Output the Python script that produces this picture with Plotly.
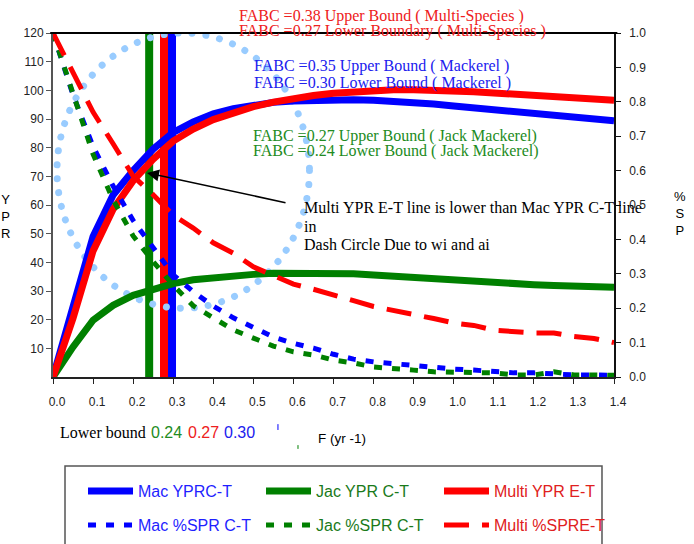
import plotly.graph_objects as go

# ---------------- data ----------------
F = [0.0, 0.05, 0.1, 0.15, 0.2, 0.25, 0.3, 0.35, 0.4, 0.45, 0.5, 0.55, 0.6, 0.65, 0.7,
     0.75, 0.8, 0.85, 0.9, 0.95, 1.0, 1.05, 1.1, 1.15, 1.2, 1.25, 1.3, 1.35, 1.4]

mac_ypr = [0, 23.5, 49, 63.5, 72, 79.5, 85.3, 89, 91.8, 93.6, 95, 95.8, 96.3, 96.6, 96.7,
           96.7, 96.5, 96.2, 95.8, 95.2, 94.5, 93.8, 93.1, 92.4, 91.8, 91.2, 90.6, 90, 89.4]
jac_ypr = [0, 10.5, 19.8, 25, 28.5, 30.8, 32.6, 33.9, 34.7, 35.3, 35.8, 36.2, 36.3, 36.3, 36.2,
           36, 35.6, 35.1, 34.7, 34.3, 33.9, 33.5, 33.1, 32.7, 32.2, 31.9, 31.7, 31.5, 31.3]
multi_ypr = [0, 20.5, 44, 58.5, 68.5, 76, 82.3, 86.5, 89.8, 92.3, 94.3, 95.9, 97.2, 98.2, 99,
             99.6, 100, 100.2, 100.2, 100.1, 99.9, 99.5, 99.1, 98.7, 98.3, 97.9, 97.5, 97, 96.5]

mac_spr = [1.0, 0.82, 0.67, 0.555, 0.455, 0.373, 0.297, 0.248, 0.206, 0.172, 0.143, 0.116,
           0.098, 0.084, 0.066, 0.052, 0.044, 0.038, 0.032, 0.026, 0.023, 0.02, 0.015, 0.012,
           0.012, 0.008, 0.006, 0.006, 0.005]
jac_spr = [1.0, 0.82, 0.648, 0.515, 0.41, 0.335, 0.267, 0.207, 0.17, 0.137, 0.113, 0.09,
           0.073, 0.064, 0.049, 0.041, 0.029, 0.026, 0.02, 0.015, 0.015, 0.014, 0.012, 0.006,
           0.006, 0.015, 0.006, 0.006, 0.005]
multi_spr = [1.0, 0.887, 0.77, 0.678, 0.584, 0.53, 0.47, 0.433, 0.39, 0.36, 0.32, 0.295,
             0.27, 0.255, 0.24, 0.222, 0.205, 0.194, 0.184, 0.17, 0.157, 0.15, 0.136, 0.131,
             0.128, 0.128, 0.118, 0.112, 0.10]

# lower-bound FABC lines (Jack mackerel, multi-species, mackerel)
bound_F = [0.24, 0.277, 0.297]
bound_colors = ["#008000", "#FF0000", "#0000FF"]

# "Dash Circle" extent (F range, YPR range)
circle_F = [0.01, 0.64]
circle_Y = [24, 120]

x_ticks = [0.0, 0.1, 0.2, 0.3, 0.4, 0.5, 0.6, 0.7, 0.8, 0.9, 1.0, 1.1, 1.2, 1.3, 1.4]
y_ticks = [10, 20, 30, 40, 50, 60, 70, 80, 90, 100, 110, 120]
y2_ticks = [0.0, 0.1, 0.2, 0.3, 0.4, 0.5, 0.6, 0.7, 0.8, 0.9, 1.0]

BLUE, GREEN, RED = "#0000FF", "#008000", "#FF0000"
SERIF = "Liberation Serif, Times New Roman, serif"
SANS = "Liberation Sans, Arial, sans-serif"

fig = go.Figure()

def span(txt, col):
    return f"<span style='color:{col}'>{txt}</span>"

fig.add_trace(go.Scatter(x=F, y=mac_ypr, mode="lines", name=span("Mac YPRC-T", "#1f1fff"),
                         line=dict(color=BLUE, width=7), legend="legend"))
fig.add_trace(go.Scatter(x=F, y=jac_ypr, mode="lines", name=span("Jac YPR C-T", "#1a7a1a"),
                         line=dict(color=GREEN, width=7), legend="legend"))
fig.add_trace(go.Scatter(x=F, y=multi_ypr, mode="lines", name=span("Multi YPR E-T", "#e02020"),
                         line=dict(color=RED, width=7), legend="legend"))
fig.add_trace(go.Scatter(x=F, y=mac_spr, mode="lines", name=span("Mac %SPR C-T", "#1f1fff"),
                         line=dict(color=BLUE, width=5, dash="8px,10px"), yaxis="y2",
                         legend="legend2"))
fig.add_trace(go.Scatter(x=F, y=jac_spr, mode="lines", name=span("Jac %SPR C-T", "#1a7a1a"),
                         line=dict(color=GREEN, width=5, dash="8px,10px"), yaxis="y2",
                         legend="legend2"))
fig.add_trace(go.Scatter(x=F, y=multi_spr, mode="lines", name=span("Multi %SPRE-T", "#e02020"),
                         line=dict(color=RED, width=5, dash="25px,13px"), yaxis="y2",
                         legend="legend2"))

shapes = []
for bf, bc in zip(bound_F, bound_colors):
    shapes.append(dict(type="line", xref="x", yref="y", x0=bf, x1=bf, y0=0, y1=120,
                       line=dict(color=bc, width=8), layer="below"))
shapes.append(dict(type="circle", xref="x", yref="y", x0=circle_F[0], x1=circle_F[1],
                   y0=circle_Y[0], y1=circle_Y[1],
                   line=dict(color="#99CCFF", width=7, dash="6px,8px"), layer="below"))
# top frame line
shapes.append(dict(type="line", xref="paper", yref="paper", x0=-0.005, x1=1.006, y0=1, y1=1,
                   line=dict(color="black", width=2)))
# legend frame
shapes.append(dict(type="rect", xref="paper", yref="paper", x0=0.0214, x1=0.9786,
                   y0=-0.55, y1=-0.2587, line=dict(color="#555555", width=1.5)))
# small stray tick marks near the axis title
shapes.append(dict(type="line", xref="paper", yref="paper", x0=0.401, x1=0.401,
                   y0=-0.137, y1=-0.154, line=dict(color=BLUE, width=1)))
shapes.append(dict(type="line", xref="paper", yref="paper", x0=0.4367, x1=0.4367,
                   y0=-0.198, y1=-0.209, line=dict(color=GREEN, width=1)))

def px2paper(px, py):
    return (px - 53) / 561.0, (377 - py) / 344.0

annotations = []
def txt(text, px, py, color, size=16, family=SERIF, xanchor="left"):
    x, y = px2paper(px, py)
    annotations.append(dict(text=text, x=x, y=y, xref="paper", yref="paper",
                            xanchor=xanchor, yanchor="middle", showarrow=False,
                            font=dict(family=family, size=size, color=color), borderpad=0))

txt("FABC =0.38 Upper Bound ( Multi-Species )", 238, 16, "#EE2020")
txt("FABC =0.27 Lower Boundary ( Multi-Species )", 238, 31, "#EE2020")
txt("FABC =0.35 Upper Bound ( Mackerel )", 253, 66, "#2020EE")
txt("FABC =0.30 Lower Bound ( Mackerel )", 253, 83, "#2020EE")
txt("FABC =0.27 Upper Bound ( Jack Mackerel)", 252, 136, "#228B22")
txt("FABC =0.24 Lower Bound ( Jack Mackerel)", 252, 151, "#228B22")
txt("Multi YPR E-T line is lower than Mac YPR C-T line", 303, 207, "black")
txt("in", 303, 226, "black")
txt("Dash Circle Due to wi and ai", 303, 244, "black")
txt("Lower bound", 59, 432, "black")
txt("0.24", 150, 432, "#228B22", size=16, family=SANS)
txt("0.27", 187, 432, "#EE2020", size=16, family=SANS)
txt("0.30", 223, 432, "#2020EE", size=16, family=SANS)
txt("F (yr -1)", 317, 438, "black", size=13.5, family=SANS)
txt("Y<br>P<br>R", 5, 216, "black", size=13, family=SANS, xanchor="center")
txt("%<br>S<br>P", 680, 213, "black", size=13, family=SANS, xanchor="center")

# arrow: head on the curves near F=0.235, tail at label
annotations.append(dict(x=0.2346, y=71.2, ax=0.584, ay=60.7, xref="x", yref="y",
                        axref="x", ayref="y", text="", showarrow=True, arrowhead=2,
                        arrowsize=1.6, arrowwidth=1.5, arrowcolor="black"))

fig.update_layout(
    width=694, height=544, autosize=False,
    margin=dict(l=53, r=80, t=33, b=167, pad=0, autoexpand=False),
    paper_bgcolor="white", plot_bgcolor="white",
    font=dict(family=SANS, size=12, color="#222222"),
    xaxis=dict(range=[0, 1.4], tickvals=x_ticks, tickformat=".1f", showline=True,
               linecolor="#222222", linewidth=1.5, ticks="outside", ticklen=5,
               tickcolor="#222222", showgrid=False, zeroline=False,
               ticklabelstandoff=8, ticklabelshift=4,
               tickfont=dict(family=SANS, size=12, color="#222222")),
    yaxis=dict(range=[0, 120], tickvals=y_ticks, showline=True, linecolor="#555555",
               linewidth=2, ticks="outside", ticklen=5, tickcolor="#555555",
               showgrid=False, zeroline=False, ticklabelstandoff=0,
               tickfont=dict(family=SANS, size=12, color="#222222")),
    yaxis2=dict(range=[0, 1], tickvals=y2_ticks, tickformat=".1f", overlaying="y",
                side="right", showline=True, linecolor="#111111", linewidth=1.5,
                ticks="outside", ticklen=5, tickcolor="#111111", showgrid=False,
                zeroline=False, ticklabelstandoff=6,
                tickfont=dict(family=SANS, size=12, color="#222222")),
    legend=dict(orientation="h", x=0.0535, y=-0.282, xanchor="left", yanchor="top",
                bgcolor="rgba(0,0,0,0)", borderwidth=0, itemwidth=45,
                entrywidth=118, entrywidthmode="pixels",
                font=dict(family=SANS, size=16)),
    legend2=dict(orientation="h", x=0.0535, y=-0.381, xanchor="left", yanchor="top",
                 bgcolor="rgba(0,0,0,0)", borderwidth=0, itemwidth=45,
                 entrywidth=118, entrywidthmode="pixels",
                 font=dict(family=SANS, size=16)),
    shapes=shapes,
    annotations=annotations,
    showlegend=True,
)

post = """
document.body.style.margin = '0';
document.body.style.padding = '0';
var gd = document.getElementById('{plot_id}');
function roundDots(){
  gd.querySelectorAll('.shapelayer path').forEach(function(p){
    var s = (p.style.stroke || '').replace(/\\s/g, '');
    if (s === 'rgb(153,204,255)') {
      p.style.strokeLinecap = 'round';
      p.style.strokeDasharray = '0.01px,14px';
    }
  });
}
roundDots();
gd.on('plotly_afterplot', roundDots);
"""

fig.write_html("out.html", post_script=post, config={"displayModeBar": False})
